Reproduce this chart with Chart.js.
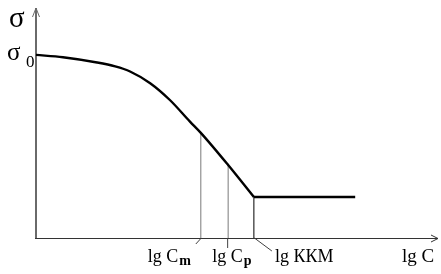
<!DOCTYPE html>
<html>
<head>
<meta charset="utf-8">
<script src="https://cdn.jsdelivr.net/npm/chart.js@4"></script>
<style>
  body { margin: 0; background: #fff; }
  canvas { display: block; }
</style>
</head>
<body>
<canvas id="chart" width="441" height="274"></canvas>
<script>
// curve sigma(lg C) (arbitrary units 0..10)
const curveX = [0, 0.67, 1.52, 1.97, 2.34, 2.84, 3.33, 3.83, 4.10, 4.78, 5.42];
const curveY = [7.96, 7.86, 7.63, 7.46, 7.24, 6.73, 6.0, 5.06, 4.57, 3.17, 1.78];
const plateauX = [5.42, 7.94];
const plateauY = [1.78, 1.78];

// marked concentrations on the axis
const markX = [4.10, 4.78, 5.42];
const markY = [4.57, 3.17, 1.78];
const markLabels = ["lg C", "lg C", "lg ККМ"];
const markSubs = ["m", "p", ""];
const markColors = ["#7a7a7a", "#7a7a7a", "#000"];

const sigma0 = 7.96;
const xTitle = "lg C";
const yTitle = "σ";

const pts = (xs, ys) => xs.map((x, i) => ({ x, y: ys[i] }));

const serif = '"Liberation Serif", "DejaVu Serif", serif';

const axesPlugin = {
  id: "axes",
  beforeDatasetsDraw(chart) {
    const { ctx, scales } = chart;
    const x0 = scales.x.getPixelForValue(0);
    const y0 = scales.y.getPixelForValue(0);
    const xEnd = scales.x.getPixelForValue(10);
    const yEnd = scales.y.getPixelForValue(10);
    ctx.save();
    // y axis
    ctx.lineWidth = 2;
    ctx.strokeStyle = "#6a6a6a";
    ctx.beginPath();
    ctx.moveTo(x0, y0 + 1);
    ctx.lineTo(x0, yEnd);
    ctx.stroke();
    ctx.lineWidth = 1;
    ctx.beginPath();
    ctx.moveTo(x0 - 3.5, yEnd + 9);
    ctx.lineTo(x0, yEnd);
    ctx.lineTo(x0 + 3.5, yEnd + 9);
    ctx.stroke();
    // x axis
    ctx.strokeStyle = "#333";
    ctx.beginPath();
    ctx.moveTo(x0 - 1, y0 + 0.5);
    ctx.lineTo(xEnd, y0 + 0.5);
    ctx.moveTo(xEnd - 7, y0 - 3);
    ctx.lineTo(xEnd, y0 + 0.5);
    ctx.lineTo(xEnd - 7, y0 + 4);
    ctx.stroke();
    ctx.restore();
  },
  afterDatasetsDraw(chart) {
    const { ctx, scales } = chart;
    const x0 = scales.x.getPixelForValue(0);
    const y0 = scales.y.getPixelForValue(0);
    ctx.save();
    ctx.fillStyle = "#000";
    ctx.textBaseline = "alphabetic";

    // leader lines from the marks to their labels
    const px = markX.map((v) => scales.x.getPixelForValue(v));
    ctx.lineWidth = 1;
    ctx.strokeStyle = "#404040";
    ctx.beginPath();
    ctx.moveTo(px[0] + 0.5, y0);
    ctx.lineTo(px[0] - 5, y0 + 6);
    ctx.moveTo(px[1] - 0.5, y0);
    ctx.lineTo(px[1] - 0.5, y0 + 10);
    ctx.moveTo(px[2] + 0.5, y0);
    ctx.lineTo(px[2] + 18, y0 + 13);
    ctx.stroke();

    // mark labels
    const offsets = [-53, -16, 21];
    markLabels.forEach((t, i) => {
      const lx = px[i] + offsets[i];
      ctx.font = "18px " + serif;
      ctx.fillText(t, lx, y0 + 24);
      if (markSubs[i]) {
        const w = ctx.measureText(t).width;
        ctx.font = "bold 14px " + serif;
        ctx.fillText(markSubs[i], lx + w + 1, y0 + 27);
      }
    });

    // axis titles
    ctx.font = "19px " + serif;
    ctx.fillText(xTitle, 402, y0 + 24);
    ctx.font = "29px " + serif;
    ctx.fillText(yTitle, 9, 27);
    const s0 = scales.y.getPixelForValue(sigma0);
    ctx.font = "25px " + serif;
    ctx.fillText(yTitle, 7, s0 + 5);
    ctx.font = "17px " + serif;
    ctx.fillText("0", x0 - 10, s0 + 12);
    ctx.restore();
  },
};

const marks = markX.map((x, i) => ({
  data: [{ x, y: 0 }, { x, y: markY[i] }],
  borderColor: markColors[i],
  borderWidth: 1,
  pointRadius: 0,
  showLine: true,
  tension: 0,
}));

new Chart(document.getElementById("chart"), {
  type: "scatter",
  data: {
    datasets: [
      {
        data: pts(curveX, curveY),
        borderColor: "#000",
        borderWidth: 2.4,
        pointRadius: 0,
        showLine: true,
        cubicInterpolationMode: "monotone",
      },
      {
        data: pts(plateauX, plateauY),
        borderColor: "#000",
        borderWidth: 2.4,
        pointRadius: 0,
        showLine: true,
      },
      ...marks,
    ],
  },
  options: {
    responsive: false,
    animation: false,
    devicePixelRatio: 1,
    layout: { padding: { left: 36, right: 3, top: 8, bottom: 36 } },
    plugins: { legend: { display: false }, tooltip: { enabled: false } },
    datasets: { scatter: { clip: false } },
    scales: {
      x: { type: "linear", min: 0, max: 10, display: false },
      y: { type: "linear", min: 0, max: 10, display: false },
    },
  },
  plugins: [axesPlugin],
});
</script>
</body>
</html>
